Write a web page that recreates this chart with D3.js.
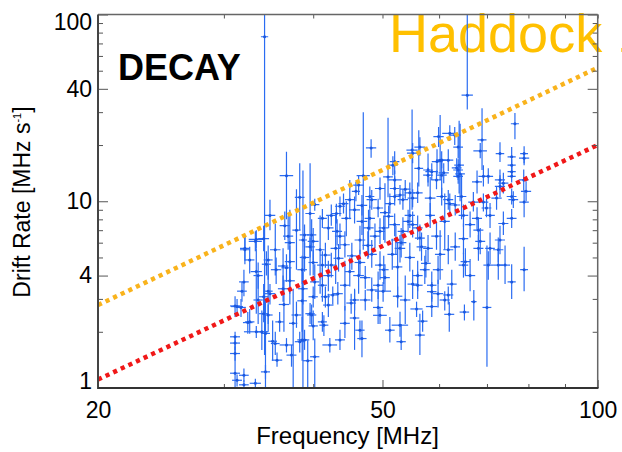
<!DOCTYPE html>
<html>
<head>
<meta charset="utf-8">
<script src="https://cdn.jsdelivr.net/npm/d3@7"></script>
<style>
  body { margin: 0; background: #fff; }
  text { font-family: "Liberation Sans", Arial, Helvetica, sans-serif; }
</style>
</head>
<body>
<svg id="chart" width="622" height="452"></svg>
<script>
// axis ticks
const freqMajor = [20, 50, 100];
const freqMinor = [30, 40, 60, 70, 80, 90];
const rateMajor = [1, 4, 10, 40, 100];
const rateMinor = [2, 3, 5, 6, 7, 8, 9, 20, 30, 50, 60, 70, 80, 90];

// power-law reference lines (end points, MHz -> MHz/s)
const lineFreq = [20, 100];
const orangeRate = [2.78, 51.9];
const redRate = [1.11, 20.0];

// bursts: [freq MHz, drift MHz/s, freq half-error, drift low, drift high]
const bursts = [
  [34.2, 76, 0.4, 1.5, 300], [65.7, 37, 1.2, 31, 300], [36.7, 13.7, 0.8, 8.0, 18.4],
  [38.7, 6.2, 0.5, 0.9, 14.6], [37.9, 7.0, 0.5, 4.3, 11.6], [47.0, 13.7, 1.0, 5.5, 30],
  [48.2, 19.3, 0.8, 17.1, 21.5], [45.9, 11.3, 0.6, 10.0, 12.7], [48.0, 10.6, 0.7, 9.2, 12.0],
  [76.6, 26, 1.0, 21.5, 29.7], [55.0, 18.8, 1.0, 9.0, 31], [60.2, 16.6, 0.8, 13.0, 29],
  [63.1, 22.6, 1.2, 20.0, 25.0], [62.1, 23.1, 1.5, 21.0, 25.5], [68.9, 21.3, 1.0, 14.7, 31.5],
  [68.5, 18.6, 1.5, 17.0, 20.5], [73.0, 18.0, 1.0, 16.2, 20.7], [75.8, 17.3, 1.0, 13.5, 19.5],
  [78.9, 18.0, 1.0, 15.6, 19.7], [78.9, 17.0, 1.3, 16.0, 18.2], [75.8, 15.6, 1.0, 14.6, 16.8],
  [75.8, 14.4, 1.0, 13.5, 15.4], [75.8, 13.6, 1.0, 12.6, 14.6], [52.0, 16.3, 0.8, 14.0, 18.5],
  [51.7, 15.6, 0.8, 13.8, 17.4], [52.0, 13.0, 1.2, 11.5, 14.6], [49.6, 11.7, 0.8, 10.2, 13.4],
  [52.0, 11.7, 0.8, 10.0, 13.6], [53.8, 11.6, 0.9, 10.3, 13.0], [57.9, 14.7, 0.9, 12.0, 18.0],
  [57.9, 13.8, 0.9, 12.6, 15.1], [58.6, 14.4, 1.2, 13.0, 16.0], [60.5, 13.8, 1.0, 10.5, 17.0],
  [59.6, 16.3, 1.0, 14.0, 19.0], [60.5, 16.6, 1.0, 15.0, 18.5], [63.8, 14.7, 1.0, 13.0, 16.8],
  [63.8, 13.6, 1.0, 12.4, 15.0], [64.0, 15.6, 1.0, 11.0, 27], [69.2, 13.6, 1.1, 12.0, 15.6],
  [70.3, 13.6, 1.1, 12.4, 15.0], [73.0, 13.0, 1.2, 11.5, 14.8], [67.8, 12.7, 1.1, 11.0, 14.6],
  [78.8, 13.0, 1.2, 11.4, 14.8], [40.2, 9.6, 0.6, 8.9, 10.3], [40.9, 5.5, 0.6, 3.2, 8.4],
  [42.0, 7.2, 0.7, 6.2, 8.4], [43.2, 6.9, 0.7, 5.8, 8.0], [43.6, 6.5, 0.7, 5.6, 7.6],
  [45.7, 9.0, 0.8, 7.6, 10.6], [46.8, 7.8, 0.8, 6.6, 9.4], [47.8, 7.2, 0.8, 5.0, 9.0],
  [48.0, 8.1, 0.8, 7.0, 9.5], [44.5, 8.1, 0.7, 6.5, 10.0], [42.4, 8.4, 0.7, 7.4, 9.6],
  [39.8, 6.6, 0.6, 5.4, 8.0], [40.0, 6.1, 0.7, 4.8, 7.2], [39.6, 5.7, 0.6, 5.0, 6.4],
  [38.9, 5.0, 0.6, 4.2, 6.0], [37.1, 4.75, 0.6, 3.8, 5.8], [36.3, 4.5, 0.6, 3.4, 5.6],
  [35.5, 4.3, 0.6, 3.6, 5.0], [34.6, 4.85, 0.5, 3.8, 5.8], [34.4, 4.6, 0.5, 4.0, 5.4],
  [33.5, 4.0, 0.5, 3.4, 4.7], [33.3, 4.2, 0.6, 2.5, 5.6], [32.0, 3.7, 0.5, 3.1, 4.3],
  [34.1, 6.3, 0.6, 5.4, 7.4], [33.2, 6.1, 0.7, 5.4, 6.9], [32.1, 5.6, 0.5, 4.8, 6.5],
  [36.9, 6.5, 0.6, 5.5, 8.4], [37.1, 6.0, 0.6, 2.8, 9.0], [38.9, 6.6, 0.6, 5.7, 7.5],
  [42.4, 4.55, 0.7, 3.9, 5.3], [42.0, 4.0, 0.7, 3.3, 4.8], [45.0, 4.2, 0.7, 3.5, 5.0],
  [46.3, 4.0, 0.8, 3.2, 5.0], [47.3, 3.9, 0.8, 3.4, 4.5], [40.2, 3.7, 0.6, 3.0, 4.6],
  [41.2, 3.55, 0.6, 2.9, 4.4], [38.7, 3.4, 0.6, 2.8, 4.2], [34.6, 3.3, 0.5, 2.0, 4.6],
  [36.3, 3.4, 0.6, 2.9, 4.0],
  [48.3, 10.2, 0.8, 9.0, 11.5], [49.3, 9.2, 0.8, 8.2, 10.3], [51.2, 9.7, 0.8, 8.6, 11.0],
  [52.0, 10.6, 0.9, 9.5, 11.8], [53.4, 10.2, 0.9, 9.0, 11.6], [55.1, 10.4, 0.9, 9.3, 11.6],
  [58.3, 10.4, 1.0, 8.0, 13.5], [60.5, 10.6, 1.0, 9.5, 11.8], [61.8, 10.2, 1.0, 9.0, 11.5],
  [63.2, 9.55, 1.0, 8.4, 10.8], [64.5, 10.6, 1.0, 8.0, 14.0], [67.0, 9.9, 1.1, 8.8, 11.2],
  [69.2, 9.9, 1.1, 8.8, 11.0], [69.9, 9.2, 1.1, 8.2, 10.3], [72.2, 10.4, 1.2, 9.0, 12.0],
  [75.8, 10.6, 1.2, 9.6, 11.7], [78.9, 9.9, 1.2, 8.2, 11.5], [75.8, 8.1, 1.2, 7.2, 9.1],
  [73.8, 7.6, 1.2, 6.6, 8.8], [68.1, 7.0, 1.1, 6.0, 8.2], [68.5, 6.1, 1.1, 5.2, 7.2],
  [68.1, 5.6, 1.1, 4.8, 6.6], [70.7, 5.6, 1.1, 4.6, 6.8], [72.6, 5.5, 1.2, 4.7, 6.4],
  [64.9, 6.3, 1.0, 5.2, 7.6], [65.3, 4.75, 1.0, 4.0, 5.6], [64.9, 4.55, 1.0, 3.9, 5.3],
  [61.8, 5.5, 1.0, 4.6, 6.6], [59.5, 6.5, 1.0, 5.5, 7.7], [57.9, 5.6, 0.9, 4.7, 6.6],
  [57.5, 4.65, 0.9, 3.9, 5.5], [59.8, 4.3, 1.0, 3.6, 5.1], [56.0, 4.0, 0.9, 3.3, 4.8],
  [56.0, 3.55, 0.9, 3.0, 4.2], [58.6, 3.55, 0.9, 3.0, 4.2], [62.5, 3.6, 1.0, 3.0, 4.3],
  [59.8, 3.2, 1.0, 2.7, 3.8], [70.3, 4.55, 1.1, 3.8, 5.4], [72.6, 4.55, 1.2, 3.8, 5.4],
  [75.8, 3.7, 1.0, 3.0, 4.6], [78.9, 4.3, 1.0, 3.3, 5.7], [70.0, 2.7, 1.0, 1.3, 5.8],
  [54.3, 7.8, 0.9, 6.8, 9.0], [53.4, 6.9, 0.9, 5.8, 8.2], [52.2, 6.2, 0.8, 5.2, 7.4],
  [55.1, 7.5, 0.9, 6.4, 8.8], [56.0, 7.2, 0.9, 6.2, 8.4], [56.4, 6.35, 0.9, 5.4, 7.5],
  [56.7, 5.7, 0.9, 4.8, 6.8], [50.2, 7.2, 0.8, 6.2, 8.4], [49.6, 6.9, 0.8, 5.9, 8.1],
  [48.8, 6.5, 0.8, 5.6, 7.6], [48.3, 5.2, 0.8, 4.4, 6.2], [49.6, 4.55, 0.8, 3.8, 5.4],
  [50.2, 4.3, 0.8, 3.6, 5.1], [50.4, 3.9, 0.8, 3.3, 4.6], [49.3, 3.55, 0.8, 3.0, 4.2],
  [52.5, 4.45, 0.8, 3.0, 6.0], [53.1, 6.0, 0.9, 5.0, 7.2], [52.9, 5.6, 0.9, 4.7, 6.6],
  [55.1, 3.6, 0.9, 3.0, 4.3], [54.6, 8.4, 0.9, 7.2, 9.8], [51.0, 8.3, 0.8, 7.2, 9.5],
  [62.1, 9.7, 1.0, 8.6, 11.0], [64.9, 8.4, 1.0, 7.3, 9.6], [67.8, 8.1, 1.1, 7.0, 9.3],
  [50.1, 3.3, 1.3, 2.9, 3.7], [49.3, 2.7, 0.8, 2.2, 3.4], [49.6, 2.45, 1.1, 2.2, 2.7],
  [52.5, 3.1, 0.8, 2.7, 3.5], [52.9, 2.17, 1.4, 1.88, 2.56], [53.1, 1.77, 0.8, 1.6, 2.2],
  [55.8, 2.65, 1.1, 2.4, 2.9], [58.6, 2.73, 1.1, 2.4, 3.1], [56.9, 2.28, 0.9, 2.0, 2.6],
  [58.6, 3.28, 0.9, 2.9, 3.7], [61.1, 2.96, 1.0, 2.6, 3.3], [61.8, 3.15, 1.0, 2.8, 3.5],
  [62.0, 2.48, 1.0, 2.0, 2.9], [65.1, 2.55, 1.0, 2.3, 2.8], [67.1, 2.9, 0.6, 2.3, 3.35],
  [31.3, 2.73, 0.6, 2.5, 3.0], [32.6, 2.26, 0.5, 1.95, 2.65], [31.1, 1.88, 0.5, 1.55, 2.0],
  [31.1, 1.74, 0.5, 1.6, 1.9], [31.1, 1.53, 0.5, 1.4, 1.67], [33.3, 2.0, 1.3, 1.85, 2.15],
  [33.9, 2.0, 0.6, 1.6, 2.6], [34.3, 1.96, 0.5, 1.0, 3.0], [34.6, 2.46, 0.5, 2.2, 2.8],
  [34.1, 2.5, 0.5, 2.25, 2.75], [34.1, 3.08, 0.5, 2.6, 3.6], [34.8, 3.2, 0.6, 2.8, 3.6],
  [35.4, 1.73, 0.5, 1.5, 2.0], [35.6, 1.41, 0.6, 1.3, 1.55], [34.3, 1.22, 0.5, 1.12, 1.33],
  [31.1, 1.2, 0.5, 1.0, 1.5], [32.0, 1.17, 0.5, 1.08, 1.27], [31.3, 1.1, 0.5, 1.02, 1.18],
  [33.2, 1.06, 0.6, 1.0, 1.12], [32.0, 1.04, 0.5, 0.98, 1.1], [35.9, 2.26, 0.5, 2.0, 2.55],
  [36.7, 1.7, 0.8, 1.55, 1.85], [37.5, 2.22, 0.5, 0.9, 3.4], [37.3, 1.5, 0.6, 1.3, 1.7],
  [37.9, 2.46, 0.6, 2.1, 2.9], [38.6, 1.81, 0.6, 1.4, 2.4], [38.9, 1.81, 0.6, 1.6, 2.05],
  [38.3, 1.77, 0.6, 1.55, 2.0], [39.8, 2.46, 0.6, 2.15, 2.8], [40.0, 3.08, 0.6, 2.7, 3.5],
  [40.2, 1.47, 0.6, 0.9, 1.84], [41.2, 2.26, 0.6, 2.0, 2.55], [41.4, 2.17, 0.6, 1.9, 2.45],
  [41.6, 3.08, 0.6, 2.7, 3.5], [42.2, 1.7, 1.0, 1.55, 1.85], [43.6, 1.81, 0.7, 1.6, 2.05],
  [44.3, 2.22, 0.7, 1.85, 2.75], [42.6, 3.15, 0.7, 2.8, 3.5], [43.3, 3.2, 0.7, 2.8, 3.7],
  [45.2, 2.85, 0.7, 2.5, 3.2], [46.5, 2.04, 0.7, 1.8, 2.3], [46.8, 1.84, 0.7, 1.46, 2.3],
  [47.3, 2.96, 0.8, 2.6, 3.35], [45.7, 2.96, 0.7, 2.6, 3.35], [32.1, 5.5, 0.5, 4.6, 6.5],
  [33.3, 6.25, 0.8, 5.6, 7.0], [31.1, 2.75, 0.5, 2.4, 3.1], [31.7, 2.7, 0.5, 2.4, 3.0],
  [32.4, 2.24, 0.5, 1.95, 2.55], [31.8, 3.3, 0.5, 2.9, 3.7], [36.4, 2.8, 0.6, 2.0, 3.8],
  [37.1, 3.75, 0.6, 3.2, 4.4], [38.6, 2.93, 0.6, 2.0, 4.3], [39.6, 2.5, 0.6, 2.2, 2.85],
  [40.0, 2.15, 0.6, 1.8, 2.6], [39.3, 1.4, 0.6, 1.0, 1.8], [35.1, 1.78, 0.5, 1.4, 2.3],
  [38.6, 4.3, 0.6, 3.6, 5.1], [40.0, 4.7, 0.6, 4.0, 5.5], [36.7, 4.4, 0.6, 3.7, 5.2],
  [44.3, 5.85, 0.7, 5.0, 6.9], [45.3, 5.1, 0.7, 4.3, 6.0], [43.4, 4.95, 0.7, 4.2, 5.9],
  [46.5, 4.7, 0.8, 4.0, 5.5], [41.6, 5.15, 0.7, 4.4, 6.0], [47.7, 5.8, 0.8, 4.9, 6.9],
  [59.9, 22.2, 1.0, 19.5, 25], [63.8, 19.5, 1.0, 17.0, 23], [56.4, 19.5, 1.0, 17.5, 22],
  [55.1, 18.1, 1.0, 16.0, 20.5], [61.8, 16.6, 1.0, 14.5, 19], [60.9, 14.2, 1.0, 12.5, 16.0],
  [63.5, 15.1, 1.0, 13.4, 17.0], [59.5, 13.0, 1.0, 11.6, 14.6], [73.0, 12.0, 1.2, 10.5, 13.8],
  [73.8, 12.5, 1.2, 11.0, 14.2], [79.4, 11.3, 1.3, 10.0, 12.8], [76.2, 10.2, 1.2, 9.2, 11.3],
  [54.6, 11.1, 0.9, 9.8, 12.6], [56.0, 11.1, 0.9, 9.8, 12.6], [52.9, 10.8, 0.9, 9.6, 12.2],
  [44.1, 9.7, 0.7, 8.6, 11.0], [43.1, 8.6, 0.7, 7.6, 9.7], [43.6, 9.4, 0.7, 8.3, 10.6],
  [39.6, 8.6, 0.6, 4.0, 16], [41.2, 8.1, 0.6, 7.2, 9.1], [46.3, 12.2, 0.8, 10.8, 13.8],
  [50.9, 13.5, 0.8, 10.5, 28], [56.2, 15.0, 0.8, 12.0, 24], [64.2, 14.0, 1.0, 10.0, 26],
  [38.3, 10.5, 0.6, 7.0, 16], [45.0, 10.2, 0.7, 8.0, 13.0], [46.8, 9.5, 0.8, 8.4, 10.8],
  [50.4, 8.7, 0.8, 6.0, 12.5], [52.0, 7.5, 0.9, 6.5, 8.6], [58.3, 8.4, 0.9, 7.2, 9.8],
  [61.1, 7.8, 1.0, 5.5, 11.0], [66.3, 7.5, 1.1, 6.4, 8.8], [70.7, 8.4, 1.1, 7.2, 9.8],
  [63.2, 5.7, 1.0, 4.8, 6.8], [60.2, 5.2, 1.0, 3.8, 7.0], [54.6, 5.0, 0.9, 4.2, 6.0],
  [51.6, 5.2, 0.8, 4.3, 6.3], [46.5, 6.2, 0.8, 5.2, 7.4], [43.0, 5.6, 0.7, 3.6, 8.5],
  [41.2, 4.55, 0.7, 3.8, 5.4], [44.3, 3.55, 0.7, 2.6, 4.8], [48.3, 3.35, 0.8, 2.9, 3.9],
  [53.8, 2.96, 0.9, 2.2, 4.0], [57.3, 4.3, 0.9, 3.6, 5.1], [66.3, 4.0, 1.1, 3.3, 4.9],
  [73.0, 6.2, 1.2, 5.2, 7.4], [74.2, 4.55, 1.2, 3.6, 5.8], [35.4, 5.5, 0.6, 4.0, 7.6],
  [36.5, 7.4, 0.6, 6.2, 8.8], [34.8, 8.4, 0.6, 7.0, 10.2], [32.6, 4.85, 0.5, 4.1, 5.7],
  [33.5, 2.96, 0.5, 2.2, 4.0], [42.0, 2.78, 0.7, 2.4, 3.2], [45.7, 2.37, 0.7, 1.6, 3.4],
  [51.2, 2.04, 0.8, 1.75, 2.4], [56.4, 1.92, 0.9, 1.5, 2.5]
];

const svg = d3.select("#chart");
const plotLeft = 98, plotRight = 597.7, plotTop = 14.5, plotBottom = 388;

const x = d3.scaleLog().domain([20, 100]).range([plotLeft, plotRight]);
const y = d3.scaleLog().domain([1, 100]).range([plotBottom, plotTop]);

svg.append("defs").append("clipPath").attr("id", "plotClip")
  .append("rect")
  .attr("x", plotLeft).attr("y", plotTop)
  .attr("width", plotRight - plotLeft).attr("height", plotBottom - plotTop);

// annotation in the corner (sits under the data)
svg.append("text")
  .attr("x", 389).attr("y", 51.7)
  .attr("font-size", 54)
  .attr("fill", "#ffc000")
  .text("Haddock 1973");

const plot = svg.append("g").attr("clip-path", "url(#plotClip)");

// error bars
const bars = plot.append("g")
  .attr("stroke", "#2a6cf2")
  .attr("stroke-width", 1.2);

bars.selectAll("line.v")
  .data(bursts)
  .enter()
  .append("line")
  .attr("class", "v")
  .attr("x1", (d) => x(d[0])).attr("x2", (d) => x(d[0]))
  .attr("y1", (d) => y(d[3])).attr("y2", (d) => y(d[4]));

bars.selectAll("line.h")
  .data(bursts)
  .enter()
  .append("line")
  .attr("class", "h")
  .attr("x1", (d) => x(d[0] - d[2])).attr("x2", (d) => x(d[0] + d[2]))
  .attr("y1", (d) => y(d[1])).attr("y2", (d) => y(d[1]));

plot.append("g")
  .selectAll("circle")
  .data(bursts)
  .enter()
  .append("circle")
  .attr("cx", (d) => x(d[0]))
  .attr("cy", (d) => y(d[1]))
  .attr("r", 1.5)
  .attr("fill", "#1a57e0");

// dotted power-law lines
const powerLine = d3.line()
  .x((d) => x(d[0]))
  .y((d) => y(d[1]));

plot.append("path")
  .attr("d", powerLine(d3.zip(lineFreq, orangeRate)))
  .attr("fill", "none")
  .attr("stroke", "#f9b31c")
  .attr("stroke-width", 4.5)
  .attr("stroke-dasharray", "4.2,4.2");

plot.append("path")
  .attr("d", powerLine(d3.zip(lineFreq, redRate)))
  .attr("fill", "none")
  .attr("stroke", "#f01818")
  .attr("stroke-width", 4.5)
  .attr("stroke-dasharray", "4.2,4.2");

// axes, ticks pointing inward
function styleAxis(g) {
  g.select(".domain").remove();
  g.selectAll(".tick line").attr("stroke", "#555").attr("stroke-width", 1);
  g.selectAll(".tick text").attr("fill", "#000").attr("font-size", 23)
    .attr("font-family", "Liberation Sans, Arial, sans-serif");
}

svg.append("g")
  .attr("transform", `translate(${plotLeft},0)`)
  .call(d3.axisLeft(y).tickValues(rateMajor).tickSize(-10).tickPadding(6)
    .tickFormat(d3.format("d")))
  .call(styleAxis)
  .call((g) => g.selectAll(".tick text")
    .attr("dy", (d) => (d === 100 ? "0.64em" : d === 1 ? "0.02em" : "0.32em")));

svg.append("g")
  .attr("transform", `translate(${plotLeft},0)`)
  .call(d3.axisLeft(y).tickValues(rateMinor).tickSize(-5).tickFormat(""))
  .call(styleAxis);

svg.append("g")
  .attr("transform", `translate(${plotRight},0)`)
  .call(d3.axisRight(y).tickValues(rateMajor).tickSize(-10).tickFormat(""))
  .call(styleAxis);

svg.append("g")
  .attr("transform", `translate(${plotRight},0)`)
  .call(d3.axisRight(y).tickValues(rateMinor).tickSize(-5).tickFormat(""))
  .call(styleAxis);

svg.append("g")
  .attr("transform", `translate(0,${plotBottom})`)
  .call(d3.axisBottom(x).tickValues(freqMajor).tickSize(-8).tickPadding(14)
    .tickFormat(d3.format("d")))
  .call(styleAxis);

svg.append("g")
  .attr("transform", `translate(0,${plotBottom})`)
  .call(d3.axisBottom(x).tickValues(freqMinor).tickSize(-4).tickFormat(""))
  .call(styleAxis);

svg.append("g")
  .attr("transform", `translate(0,${plotTop})`)
  .call(d3.axisTop(x).tickValues(freqMajor.concat(freqMinor)).tickSize(-4).tickFormat(""))
  .call(styleAxis);

// frame
svg.append("line").attr("x1", plotLeft).attr("x2", plotRight).attr("y1", plotTop).attr("y2", plotTop)
  .attr("stroke", "#666").attr("stroke-width", 1.5);
svg.append("line").attr("x1", plotRight).attr("x2", plotRight).attr("y1", plotTop).attr("y2", plotBottom)
  .attr("stroke", "#666").attr("stroke-width", 1.5);
svg.append("line").attr("x1", plotLeft).attr("x2", plotLeft).attr("y1", plotTop).attr("y2", plotBottom + 1)
  .attr("stroke", "#444").attr("stroke-width", 2);
svg.append("line").attr("x1", plotLeft).attr("x2", plotRight + 0.75).attr("y1", plotBottom).attr("y2", plotBottom)
  .attr("stroke", "#333").attr("stroke-width", 2);

// labels
svg.append("text")
  .attr("x", 118).attr("y", 80)
  .attr("font-size", 36).attr("font-weight", "bold")
  .text("DECAY");

svg.append("text")
  .attr("x", 347.5).attr("y", 444)
  .attr("text-anchor", "middle")
  .attr("font-size", 24)
  .text("Frequency [MHz]");

const yTitle = svg.append("text")
  .attr("transform", "translate(30,202) rotate(-90)")
  .attr("text-anchor", "middle")
  .attr("font-size", 23);
yTitle.append("tspan").text("Drift Rate [MHz s");
yTitle.append("tspan").attr("font-size", 11).attr("dy", -9).text("-1");
yTitle.append("tspan").attr("dy", 9).text("]");
</script>
</body>
</html>
